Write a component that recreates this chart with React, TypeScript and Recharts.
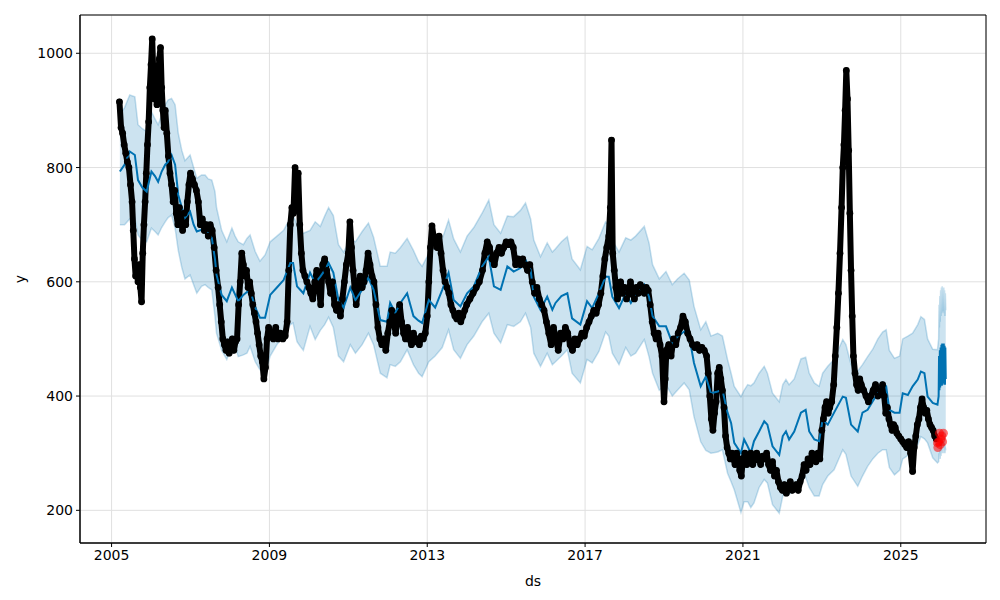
import React from 'react';
import { ComposedChart, Line, Area, Scatter, XAxis, YAxis, CartesianGrid, ReferenceArea } from 'recharts';

// Prophet-style forecast plot: observed points, yhat line, uncertainty band

const xTicks = [2005, 2009, 2013, 2017, 2021, 2025];
const yTicks = [200, 400, 600, 800, 1000];
const xDomain: [number, number] = [2004.2, 2027.16];
const yDomain: [number, number] = [142.8, 1067];

// [decimal year, y]
const observed: [number, number][] = [
  [2005.20, 915], [2005.24, 870], [2005.28, 860], [2005.32, 840], [2005.36, 825], [2005.40, 810],
  [2005.44, 800], [2005.48, 770], [2005.52, 740], [2005.55, 690], [2005.58, 640], [2005.61, 610],
  [2005.64, 620], [2005.67, 600], [2005.70, 630], [2005.73, 590], [2005.76, 565], [2005.79, 650],
  [2005.82, 700], [2005.85, 740], [2005.88, 790], [2005.91, 840], [2005.94, 880], [2005.97, 940],
  [2006.00, 980], [2006.03, 1025], [2006.06, 960], [2006.09, 920], [2006.12, 940], [2006.15, 910],
  [2006.18, 960], [2006.21, 990], [2006.24, 1010], [2006.27, 940], [2006.30, 900], [2006.33, 870],
  [2006.36, 900], [2006.40, 860], [2006.44, 820], [2006.48, 790], [2006.52, 770], [2006.56, 740],
  [2006.60, 760], [2006.64, 720], [2006.68, 700], [2006.72, 730], [2006.76, 710], [2006.80, 690],
  [2006.84, 720], [2006.88, 700], [2006.92, 740], [2006.96, 770], [2007.00, 790], [2007.05, 780],
  [2007.10, 770], [2007.15, 760], [2007.20, 740], [2007.25, 700], [2007.30, 710], [2007.35, 690],
  [2007.40, 700], [2007.45, 680], [2007.50, 700], [2007.55, 690], [2007.60, 660], [2007.65, 620],
  [2007.70, 590], [2007.74, 560], [2007.78, 530], [2007.82, 500], [2007.86, 490], [2007.90, 480],
  [2007.94, 495], [2007.98, 475], [2008.02, 490], [2008.06, 500], [2008.10, 480], [2008.14, 495],
  [2008.18, 500], [2008.22, 560], [2008.26, 600], [2008.30, 650], [2008.34, 630], [2008.38, 610],
  [2008.42, 620], [2008.46, 590], [2008.50, 600], [2008.54, 580], [2008.58, 560], [2008.62, 545],
  [2008.66, 530], [2008.70, 510], [2008.74, 490], [2008.78, 470], [2008.82, 460], [2008.86, 430],
  [2008.90, 450], [2008.94, 500], [2008.98, 520], [2009.04, 510], [2009.10, 500], [2009.16, 520],
  [2009.22, 500], [2009.28, 510], [2009.34, 500], [2009.40, 505], [2009.45, 530], [2009.49, 620],
  [2009.53, 700], [2009.57, 730], [2009.61, 720], [2009.65, 800], [2009.69, 760], [2009.73, 790],
  [2009.77, 700], [2009.81, 650], [2009.85, 620], [2009.90, 610], [2009.95, 600], [2010.00, 590],
  [2010.05, 580], [2010.10, 570], [2010.15, 600], [2010.20, 620], [2010.25, 590], [2010.30, 560],
  [2010.35, 630], [2010.40, 640], [2010.45, 620], [2010.50, 600], [2010.55, 580], [2010.60, 600],
  [2010.65, 560], [2010.70, 550], [2010.75, 560], [2010.80, 540], [2010.85, 570], [2010.90, 600],
  [2010.95, 630], [2011.00, 650], [2011.04, 705], [2011.08, 660], [2011.12, 620], [2011.16, 590],
  [2011.20, 560], [2011.25, 590], [2011.30, 610], [2011.35, 590], [2011.40, 600], [2011.45, 620],
  [2011.50, 650], [2011.55, 630], [2011.60, 610], [2011.65, 600], [2011.70, 560], [2011.75, 520],
  [2011.80, 500], [2011.85, 490], [2011.90, 500], [2011.95, 480], [2012.00, 510], [2012.05, 530],
  [2012.10, 550], [2012.15, 530], [2012.20, 510], [2012.25, 540], [2012.30, 560], [2012.35, 530],
  [2012.40, 510], [2012.45, 500], [2012.50, 520], [2012.55, 500], [2012.60, 490], [2012.65, 510],
  [2012.70, 495], [2012.75, 500], [2012.80, 490], [2012.85, 505], [2012.90, 500], [2012.95, 510],
  [2013.00, 540], [2013.04, 600], [2013.08, 660], [2013.12, 698], [2013.16, 680], [2013.20, 670],
  [2013.25, 660], [2013.30, 680], [2013.35, 650], [2013.40, 620], [2013.45, 600], [2013.50, 590],
  [2013.55, 580], [2013.60, 560], [2013.65, 550], [2013.70, 540], [2013.75, 535], [2013.80, 545],
  [2013.85, 530], [2013.90, 540], [2013.95, 550], [2014.00, 560], [2014.08, 570], [2014.16, 580],
  [2014.24, 590], [2014.32, 600], [2014.40, 620], [2014.46, 650], [2014.52, 670], [2014.58, 660],
  [2014.64, 640], [2014.70, 630], [2014.76, 650], [2014.82, 660], [2014.88, 650], [2014.94, 660],
  [2015.00, 670], [2015.06, 665], [2015.12, 670], [2015.18, 660], [2015.24, 630], [2015.30, 640],
  [2015.36, 630], [2015.42, 640], [2015.48, 630], [2015.54, 620], [2015.60, 630], [2015.66, 600],
  [2015.72, 580], [2015.78, 590], [2015.84, 570], [2015.90, 560], [2015.96, 550], [2016.02, 530],
  [2016.08, 510], [2016.14, 490], [2016.20, 520], [2016.26, 500], [2016.32, 480], [2016.38, 510],
  [2016.44, 500], [2016.50, 520], [2016.56, 510], [2016.62, 490], [2016.68, 480], [2016.74, 500],
  [2016.80, 490], [2016.86, 500], [2016.92, 510], [2016.98, 505], [2017.04, 520], [2017.10, 530],
  [2017.16, 540], [2017.22, 550], [2017.28, 545], [2017.34, 560], [2017.40, 580], [2017.45, 610],
  [2017.50, 640], [2017.55, 660], [2017.60, 680], [2017.64, 730], [2017.67, 848], [2017.70, 650],
  [2017.74, 620], [2017.78, 590], [2017.82, 570], [2017.86, 580], [2017.90, 600], [2017.95, 580],
  [2018.00, 590], [2018.05, 570], [2018.10, 580], [2018.15, 600], [2018.20, 580], [2018.25, 570],
  [2018.30, 590], [2018.35, 580], [2018.40, 595], [2018.45, 590], [2018.50, 580], [2018.55, 590],
  [2018.60, 585], [2018.65, 560], [2018.70, 530], [2018.75, 510], [2018.80, 500], [2018.85, 510],
  [2018.90, 490], [2018.95, 470], [2019.00, 390], [2019.03, 430], [2019.06, 480], [2019.12, 490],
  [2019.18, 470], [2019.24, 500], [2019.30, 490], [2019.36, 510], [2019.42, 520], [2019.48, 540],
  [2019.54, 530], [2019.60, 510], [2019.66, 500], [2019.72, 490], [2019.78, 485], [2019.84, 490],
  [2019.90, 480], [2019.96, 485], [2020.02, 480], [2020.08, 470], [2020.12, 440], [2020.16, 400],
  [2020.20, 360], [2020.24, 340], [2020.28, 370], [2020.32, 390], [2020.36, 440], [2020.40, 450],
  [2020.44, 430], [2020.48, 410], [2020.52, 380], [2020.56, 330], [2020.60, 310], [2020.64, 300],
  [2020.68, 290], [2020.72, 300], [2020.76, 290], [2020.80, 280], [2020.84, 300], [2020.88, 290],
  [2020.92, 270], [2020.96, 260], [2021.00, 290], [2021.05, 300], [2021.10, 280], [2021.15, 290],
  [2021.20, 300], [2021.25, 280], [2021.30, 290], [2021.35, 300], [2021.40, 290], [2021.45, 280],
  [2021.50, 295], [2021.55, 290], [2021.60, 300], [2021.65, 280], [2021.70, 270], [2021.75, 285],
  [2021.80, 260], [2021.85, 270], [2021.90, 250], [2021.95, 240], [2022.00, 235], [2022.05, 245],
  [2022.10, 230], [2022.15, 240], [2022.20, 250], [2022.25, 235], [2022.30, 240], [2022.35, 245],
  [2022.40, 235], [2022.45, 250], [2022.50, 260], [2022.55, 280], [2022.60, 270], [2022.65, 290],
  [2022.70, 280], [2022.75, 300], [2022.80, 290], [2022.85, 285], [2022.90, 300], [2022.95, 290],
  [2023.00, 340], [2023.04, 360], [2023.08, 380], [2023.12, 390], [2023.16, 370], [2023.20, 380],
  [2023.25, 390], [2023.30, 420], [2023.34, 470], [2023.38, 520], [2023.42, 580], [2023.46, 650],
  [2023.50, 730], [2023.53, 800], [2023.56, 840], [2023.59, 900], [2023.62, 970], [2023.65, 920],
  [2023.68, 830], [2023.71, 720], [2023.74, 620], [2023.77, 540], [2023.80, 470], [2023.84, 440],
  [2023.88, 420], [2023.92, 410], [2023.96, 430], [2024.00, 420], [2024.06, 410], [2024.12, 400],
  [2024.18, 390], [2024.24, 400], [2024.30, 410], [2024.36, 420], [2024.42, 400], [2024.48, 410],
  [2024.54, 420], [2024.58, 400], [2024.62, 370], [2024.66, 380], [2024.70, 360], [2024.74, 350],
  [2024.78, 340], [2024.82, 350], [2024.86, 345], [2024.90, 335], [2024.95, 330], [2025.00, 325],
  [2025.05, 320], [2025.10, 315], [2025.15, 310], [2025.20, 320], [2025.25, 300], [2025.30, 268],
  [2025.34, 310], [2025.38, 330], [2025.42, 350], [2025.46, 360], [2025.50, 380], [2025.54, 395],
  [2025.58, 380], [2025.62, 370], [2025.66, 375], [2025.70, 360], [2025.74, 350], [2025.78, 345],
  [2025.82, 340], [2025.86, 330], [2025.90, 325],
];

// held-out points (red)
const holdout: [number, number][] = [
  [2025.93, 318], [2025.94, 310], [2025.96, 320], [2025.98, 335], [2026.00, 315],
  [2026.02, 325], [2026.04, 330], [2026.06, 320], [2026.08, 335],
];

// [decimal year, yhat, yhat_lower, yhat_upper]
const forecast: [number, number, number, number][] = [
  [2005.21, 793, 700, 892], [2005.33, 805, 700, 905], [2005.46, 828, 710, 927], [2005.59, 822, 711, 924],
  [2005.67, 778, 682, 875], [2005.78, 765, 672, 868], [2005.89, 758, 670, 863], [2006.01, 793, 694, 898],
  [2006.10, 785, 688, 885], [2006.18, 775, 682, 875], [2006.27, 793, 695, 892], [2006.36, 805, 705, 910],
  [2006.43, 810, 712, 918], [2006.52, 822, 717, 921], [2006.61, 805, 694, 910], [2006.69, 752, 655, 860],
  [2006.78, 730, 625, 830], [2006.86, 712, 605, 812], [2006.99, 723, 612, 822], [2007.08, 700, 595, 800],
  [2007.16, 688, 580, 781], [2007.28, 691, 592, 787], [2007.37, 688, 595, 787], [2007.45, 685, 590, 780],
  [2007.54, 677, 586, 778], [2007.62, 640, 540, 758], [2007.66, 612, 510, 730], [2007.79, 577, 480, 690],
  [2007.92, 566, 464, 670], [2008.05, 590, 487, 694], [2008.13, 578, 487, 680], [2008.21, 566, 469, 670],
  [2008.34, 577, 472, 665], [2008.43, 582, 475, 676], [2008.51, 586, 487, 682], [2008.64, 555, 460, 653],
  [2008.76, 537, 446, 636], [2008.89, 537, 440, 647], [2009.02, 577, 470, 670], [2009.19, 590, 490, 680],
  [2009.36, 603, 505, 690], [2009.53, 633, 525, 712], [2009.60, 633, 528, 717], [2009.70, 592, 495, 700],
  [2009.78, 586, 487, 680], [2009.86, 580, 480, 685], [2010.03, 616, 522, 690], [2010.16, 598, 499, 705],
  [2010.29, 609, 515, 697], [2010.40, 620, 525, 715], [2010.50, 633, 538, 730], [2010.62, 616, 520, 716],
  [2010.75, 568, 470, 665], [2010.88, 555, 460, 652], [2011.05, 590, 490, 675], [2011.18, 568, 475, 670],
  [2011.35, 586, 490, 688], [2011.51, 607, 510, 703], [2011.64, 586, 490, 678], [2011.81, 533, 440, 627],
  [2011.98, 530, 432, 627], [2012.06, 563, 455, 652], [2012.19, 546, 452, 650], [2012.32, 563, 460, 660],
  [2012.49, 580, 481, 676], [2012.65, 540, 455, 655], [2012.78, 532, 440, 635], [2012.87, 528, 434, 627],
  [2013.04, 568, 460, 650], [2013.20, 555, 470, 660], [2013.38, 586, 485, 675], [2013.54, 616, 516, 708],
  [2013.67, 568, 481, 675], [2013.84, 557, 466, 652], [2014.01, 580, 490, 680], [2014.18, 592, 505, 695],
  [2014.39, 627, 530, 720], [2014.56, 644, 545, 743], [2014.69, 592, 510, 700], [2014.86, 586, 493, 685],
  [2015.03, 627, 525, 715], [2015.19, 618, 522, 714], [2015.36, 624, 530, 725], [2015.49, 638, 545, 738],
  [2015.62, 621, 520, 710], [2015.70, 574, 475, 673], [2015.87, 551, 452, 644], [2016.04, 574, 475, 668],
  [2016.17, 551, 455, 652], [2016.25, 563, 460, 658], [2016.40, 575, 470, 670], [2016.55, 580, 481, 679],
  [2016.67, 536, 440, 640], [2016.88, 525, 423, 621], [2017.05, 566, 464, 662], [2017.18, 554, 458, 656],
  [2017.35, 580, 478, 676], [2017.52, 609, 512, 705], [2017.60, 609, 505, 700], [2017.69, 574, 475, 673],
  [2017.86, 554, 455, 652], [2018.03, 580, 485, 677], [2018.16, 563, 470, 673], [2018.28, 577, 475, 680],
  [2018.50, 595, 499, 697], [2018.62, 574, 469, 668], [2018.71, 540, 440, 630], [2018.88, 522, 410, 605],
  [2019.05, 522, 420, 618], [2019.21, 493, 400, 595], [2019.34, 504, 410, 605], [2019.51, 513, 423, 615],
  [2019.64, 504, 411, 603], [2019.76, 458, 364, 557], [2019.93, 417, 320, 516], [2020.06, 434, 305, 530],
  [2020.19, 405, 300, 505], [2020.36, 408, 302, 510], [2020.48, 411, 306, 505], [2020.61, 371, 265, 464],
  [2020.70, 353, 250, 440], [2020.78, 318, 236, 417], [2020.95, 300, 196, 399], [2021.03, 324, 215, 410],
  [2021.12, 312, 215, 420], [2021.20, 300, 205, 418], [2021.28, 321, 213, 423], [2021.41, 338, 240, 440],
  [2021.54, 356, 254, 452], [2021.62, 350, 248, 440], [2021.75, 312, 210, 405], [2021.92, 297, 195, 390],
  [2022.01, 330, 225, 420], [2022.09, 338, 236, 429], [2022.17, 324, 228, 420], [2022.30, 338, 235, 430],
  [2022.47, 371, 255, 465], [2022.59, 376, 258, 468], [2022.68, 338, 240, 440], [2022.81, 324, 225, 423],
  [2022.93, 321, 225, 417], [2023.02, 359, 245, 440], [2023.15, 350, 260, 452], [2023.31, 371, 271, 464],
  [2023.53, 399, 306, 499], [2023.61, 397, 298, 490], [2023.74, 350, 260, 455], [2023.91, 338, 242, 444],
  [2024.03, 371, 260, 455], [2024.16, 376, 277, 469], [2024.29, 391, 290, 482], [2024.42, 405, 300, 500],
  [2024.54, 423, 306, 512], [2024.63, 417, 306, 516], [2024.71, 376, 275, 480], [2024.84, 371, 262, 466],
  [2024.97, 371, 270, 470], [2025.05, 405, 290, 500], [2025.18, 402, 296, 505], [2025.30, 417, 300, 510],
  [2025.43, 429, 315, 525], [2025.51, 443, 329, 539], [2025.60, 440, 325, 534], [2025.68, 399, 318, 500],
  [2025.81, 388, 292, 482], [2025.93, 385, 283, 481],
  // future, sub-daily: fast oscillation
  [2025.96, 400, 285, 500], [2025.97, 470, 300, 560], [2025.98, 410, 290, 520], [2025.99, 480, 305, 575],
  [2026.00, 415, 290, 530], [2026.01, 485, 310, 585], [2026.02, 420, 295, 540], [2026.03, 490, 315, 590],
  [2026.04, 418, 300, 545], [2026.05, 492, 320, 592], [2026.06, 420, 300, 548], [2026.07, 490, 318, 588],
  [2026.08, 425, 305, 550], [2026.09, 492, 320, 590], [2026.10, 422, 300, 545], [2026.11, 488, 315, 585],
  [2026.12, 420, 300, 540], [2026.13, 485, 310, 580], [2026.14, 430, 305, 550],
];

const obsRows = observed.map(([t, y]) => ({ t, y }));
const holdRows = holdout.map(([t, y]) => ({ t, y }));
const fcRows = forecast.map(([t, yhat, lo, hi]) => ({ t, yhat, band: [lo, hi] }));

const font = 'DejaVu Sans, sans-serif';
const tickStyle = { fill: '#000', fontSize: 14, fontFamily: font };

export default function App() {
  return (
    <div style={{ position: 'absolute', left: 0, top: 0, width: 1000, height: 600, background: '#fff' }}>
      <ComposedChart
        width={1000}
        height={600}
        margin={{ top: 15, right: 14, bottom: 0, left: 0 }}
        style={{ fontFamily: font }}
      >
        <CartesianGrid stroke="#e0e0e0" strokeWidth={1} />
        <XAxis
          dataKey="t"
          type="number"
          domain={xDomain}
          ticks={xTicks}
          interval={0}
          allowDataOverflow
          height={57}
          tickSize={4}
          tickMargin={3}
          stroke="#000"
          tick={tickStyle}
          tickFormatter={(v) => String(v)}
          label={{ value: 'ds', position: 'insideBottom', offset: 14, fill: '#000', fontSize: 14, fontFamily: font }}
        />
        <YAxis
          type="number"
          domain={yDomain}
          ticks={yTicks}
          interval={0}
          allowDataOverflow
          width={80}
          tickSize={4}
          tickMargin={3}
          stroke="#000"
          tick={tickStyle}
          label={{
            content: (props: any) => {
              const vb = props.viewBox || {};
              const cx = 20;
              const cy = (vb.y ?? 15) + (vb.height ?? 528) / 2;
              return (
                <text x={cx} y={cy} transform={`rotate(-90, ${cx}, ${cy})`} textAnchor="middle" dominantBaseline="central" fill="#000" fontSize={14} fontFamily={font}>
                  y
                </text>
              );
            },
          }}
        />
        <Line
          data={obsRows}
          dataKey="y"
          type="linear"
          stroke="#000"
          strokeWidth={6}
          strokeLinejoin="round"
          strokeLinecap="round"
          dot={{ r: 3.4, fill: '#000', stroke: 'none' }}
          activeDot={false}
          isAnimationActive={false}
        />
        <Line
          data={fcRows}
          dataKey="yhat"
          type="linear"
          stroke="#0072B2"
          strokeWidth={2}
          dot={false}
          activeDot={false}
          isAnimationActive={false}
        />
        <Area
          data={fcRows}
          dataKey="band"
          type="linear"
          fill="#0072B2"
          fillOpacity={0.2}
          stroke="#0072B2"
          strokeOpacity={0.22}
          strokeWidth={1.5}
          dot={false}
          activeDot={false}
          isAnimationActive={false}
        />
        <Scatter data={holdRows} dataKey="y" fill="#ff0000" fillOpacity={0.55} shape="circle" isAnimationActive={false} />
        <ReferenceArea
          x1={xDomain[0]}
          x2={xDomain[1]}
          y1={yDomain[0]}
          y2={yDomain[1]}
          fill="none"
          stroke="#000"
          strokeWidth={1}
          ifOverflow="visible"
        />
      </ComposedChart>
    </div>
  );
}
